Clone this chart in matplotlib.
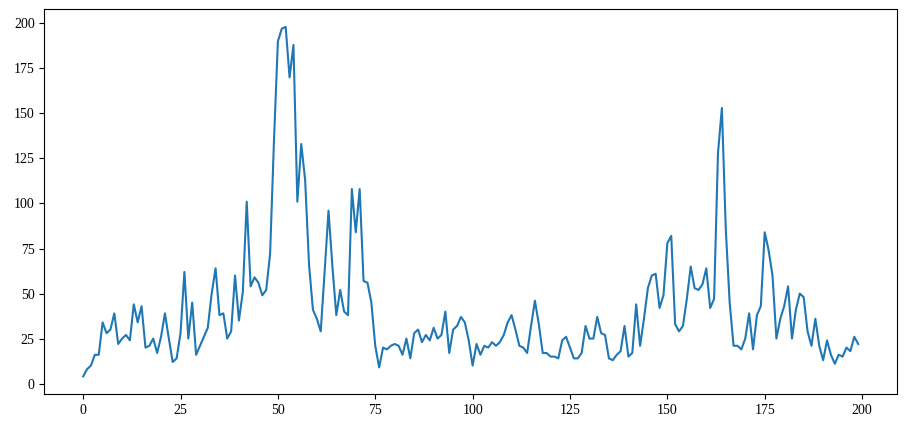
import matplotlib
matplotlib.use('Agg')
import matplotlib.pyplot as plt

# values, one per index 0..199
values = [
  4, 8, 10, 16, 16, 34, 28, 30, 39, 22,
  25, 27, 24, 44, 34, 43, 20, 21, 25, 17,
  26, 39, 25, 12, 14, 28, 62, 25, 45, 16,
  21, 26, 31, 50, 64, 38, 39, 25, 29, 60,
  35, 51, 101, 54, 59, 56, 49, 52, 72, 135,
  190, 197, 198, 170, 188, 101, 133, 113, 66, 41,
  36, 29, 62, 96, 65, 38, 52, 40, 38, 108,
  84, 108, 57, 56, 45, 21, 9, 20, 19, 21,
  22, 21, 16, 25, 14, 28, 30, 23, 27, 24,
  31, 25, 27, 40, 17, 30, 32, 37, 34, 24,
  10, 22, 16, 21, 20, 23, 21, 23, 27, 34,
  38, 30, 21, 20, 17, 32, 46, 33, 17, 17,
  15, 15, 14, 24, 26, 20, 14, 14, 17, 32,
  25, 25, 37, 28, 27, 14, 13, 16, 18, 32,
  15, 17, 44, 21, 36, 53, 60, 61, 42, 49,
  78, 82, 33, 29, 32, 47, 65, 53, 52, 55,
  64, 42, 47, 128, 153, 86, 45, 21, 21, 19,
  25, 39, 19, 38, 43, 84, 74, 60, 25, 36,
  43, 54, 25, 41, 50, 48, 29, 21, 36, 21,
  13, 24, 16, 11, 16, 15, 20, 18, 26, 22,
]

plt.rcParams['font.family'] = ['Liberation Serif', 'DejaVu Serif']
plt.rcParams['font.size'] = 10

fig = plt.figure(figsize=(9.06, 4.30), dpi=100)
ax = fig.add_axes([0.049, 0.084, 0.941, 0.894])
ax.plot(range(len(values)), values)

fig.savefig('out.png', dpi=100)
